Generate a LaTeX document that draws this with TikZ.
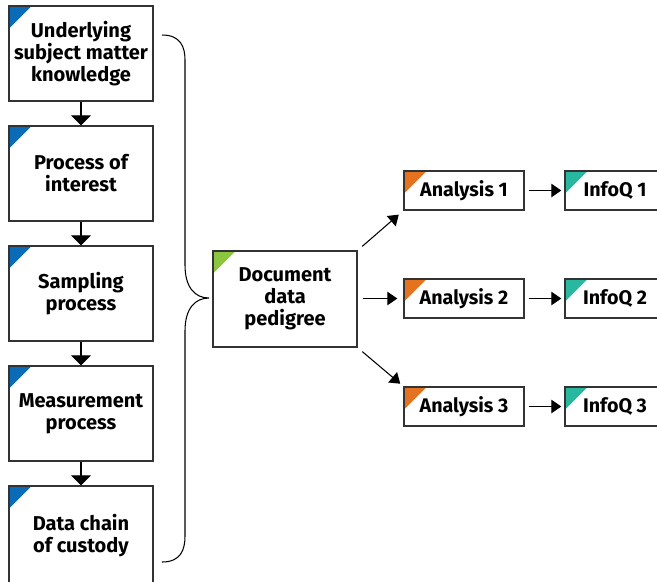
\documentclass[tikz,border=0pt]{standalone}
\usepackage{fontspec}
\setmainfont{Fira Sans}
\usetikzlibrary{arrows.meta}
\definecolor{stepblue}{HTML}{0A6BB8}
\definecolor{docgreen}{HTML}{8CC63E}
\definecolor{anaorange}{HTML}{E5721F}
\definecolor{infoteal}{HTML}{28B8A0}
\tikzset{
    corner/.style={path picture={\fill[#1] (path picture bounding box.north west) -- ++(0.45,0) -- ++(-0.45,-0.45) -- cycle;}},
    bigbox/.style={draw=black!80, line width=0.8pt, minimum width=2.88cm, minimum height=1.9cm, align=center, inner sep=0pt, font=\fontsize{11.4}{12.5}\selectfont\bfseries},
    smallbox/.style={draw=black!80, line width=0.8pt, minimum width=2.4cm, minimum height=0.78cm, inner sep=0pt, font=\fontsize{11.2}{12.5}\selectfont\bfseries},
    downarr/.style={-{Triangle[width=0.4cm,length=0.2cm]}, line width=0.6pt},
    arr/.style={-{Triangle[width=0.27cm,length=0.2cm]}, line width=0.6pt}
}
\begin{document}
        \begin{tikzpicture}
            \useasboundingbox (0,0) rectangle (13.14,-11.62);
            \node[bigbox, corner=stepblue] (know) at (1.62,-1.07) {Underlying\\subject matter\\knowledge};
            \node[bigbox, corner=stepblue] (proc) at (1.62,-3.47) {Process of\\interest};
            \node[bigbox, corner=stepblue] (samp) at (1.62,-5.87) {Sampling\\process};
            \node[bigbox, corner=stepblue] (meas) at (1.62,-8.27) {Measurement\\process};
            \node[bigbox, corner=stepblue, minimum height=1.98cm] (chain) at (1.62,-10.71) {Data chain\\of custody};
            \draw[downarr] (know) -- (proc);
            \draw[downarr] (proc) -- (samp);
            \draw[downarr] (samp) -- (meas);
            \draw[downarr] (meas) -- (chain);
            \node[bigbox, corner=docgreen, minimum height=1.92cm] (doc) at (5.7,-5.98) {Document\\data\\pedigree};
            \coordinate (bracetop) at (3.24,-0.70);
            \coordinate (bracetip) at (4.18,-5.96);
            \coordinate (bracebot) at (3.24,-11.24);
            \draw[line width=0.6pt] (bracetop) .. controls (3.62,-0.70) and (3.70,-0.95) .. (3.70,-1.20)
                -- (3.70,-5.30) .. controls (3.70,-5.75) and (3.90,-5.96) .. (bracetip)
                .. controls (3.90,-5.96) and (3.70,-6.17) .. (3.70,-6.62)
                -- (3.70,-10.72) .. controls (3.70,-10.99) and (3.62,-11.24) .. (bracebot);
            \node[smallbox, corner=anaorange] (ana1) at (9.28,-3.81) {Analysis 1};
            \node[smallbox, corner=anaorange] (ana2) at (9.28,-5.97) {Analysis 2};
            \node[smallbox, corner=anaorange] (ana3) at (9.28,-8.13) {Analysis 3};
            \node[smallbox, corner=infoteal, minimum width=2.0cm] (info1) at (12.3,-3.81) {InfoQ 1};
            \node[smallbox, corner=infoteal, minimum width=2.0cm] (info2) at (12.3,-5.97) {InfoQ 2};
            \node[smallbox, corner=infoteal, minimum width=2.0cm] (info3) at (12.3,-8.13) {InfoQ 3};
            \draw[arr, shorten <=0.12cm, shorten >=0.12cm] (doc.north east) -- (ana1.south west);
            \draw[arr, shorten <=0.1cm, shorten >=0.12cm] (doc.east |- ana2) -- (ana2.west);
            \draw[arr, shorten <=0.12cm, shorten >=0.08cm] (doc.south east) -- (ana3.north west);
            \draw[arr, shorten <=0.08cm, shorten >=0.06cm] (ana1) -- (info1);
            \draw[arr, shorten <=0.08cm, shorten >=0.06cm] (ana2) -- (info2);
            \draw[arr, shorten <=0.08cm, shorten >=0.06cm] (ana3) -- (info3);
        \end{tikzpicture}
\end{document}
